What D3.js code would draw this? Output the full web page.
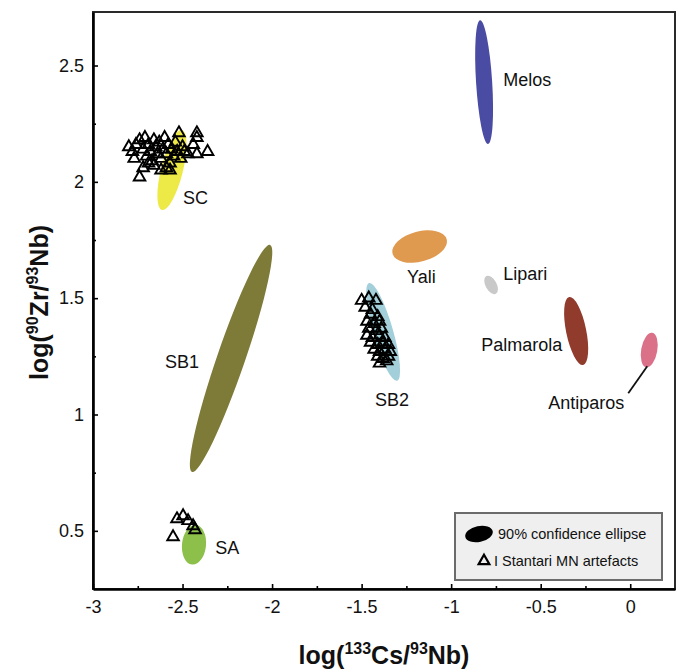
<!DOCTYPE html>
<html>
<head>
<meta charset="utf-8">
<script src="https://cdn.jsdelivr.net/npm/d3@7"></script>
<style>
  body { margin: 0; background: #fff; }
  svg text { font-family: "Liberation Sans", Arial, sans-serif; fill: #111; }
</style>
</head>
<body>
<svg id="chart" width="679" height="669"></svg>
<script>
// ---- data ----
const xTicks = [-3, -2.5, -2, -1.5, -1, -0.5, 0];
const xMinorTicks = [-2.75, -2.25, -1.75, -1.25, -0.75, -0.25];
const yTicks = [0.5, 1, 1.5, 2, 2.5];
const yMinorTicks = [0.75, 1.25, 1.75, 2.25];

const sources = ['Melos', 'SC', 'SB1', 'SB2', 'Yali', 'Lipari', 'Palmarola', 'Antiparos', 'SA'];
// ellipse centre, one end of the long axis, and half of the short axis (x units)
const ellipseCentre = [[-0.816, 2.429], [-2.559, 2.051], [-2.229, 1.241], [-1.380, 1.355], [-1.176, 1.722],
  [-0.777, 1.557], [-0.302, 1.359], [0.106, 1.277], [-2.436, 0.440]];
const ellipseTip = [[-0.838, 2.695], [-2.503, 2.223], [-2.011, 1.729], [-1.458, 1.565], [-1.025, 1.753],
  [-0.804, 1.595], [-0.341, 1.505], [0.123, 1.351], [-2.425, 0.525]];
const ellipseHalfWidth = [0.045, 0.061, 0.078, 0.056, 0.084, 0.031, 0.056, 0.045, 0.067];
const labelAt = [[-0.709, 2.412], [-2.497, 1.905], [-2.598, 1.200], [-1.425, 1.037], [-1.246, 1.565],
  [-0.709, 1.580], [-0.380, 1.273], [-0.458, 1.024], [-2.318, 0.401]];
const antiparosLeader = [[0.095, 1.207], [-0.011, 1.091]];

const artefactsSC = [[-2.80, 2.15], [-2.78, 2.13], [-2.76, 2.16], [-2.74, 2.18], [-2.72, 2.14], [-2.71, 2.19],
  [-2.70, 2.11], [-2.69, 2.16], [-2.68, 2.13], [-2.67, 2.09], [-2.66, 2.18], [-2.65, 2.15], [-2.64, 2.12],
  [-2.63, 2.17], [-2.62, 2.10], [-2.61, 2.14], [-2.60, 2.19], [-2.59, 2.12], [-2.58, 2.16], [-2.57, 2.08],
  [-2.56, 2.14], [-2.55, 2.11], [-2.54, 2.17], [-2.53, 2.13], [-2.52, 2.21], [-2.51, 2.10], [-2.50, 2.15],
  [-2.49, 2.13], [-2.47, 2.12], [-2.44, 2.16], [-2.42, 2.21], [-2.42, 2.19], [-2.42, 2.12], [-2.36, 2.13],
  [-2.74, 2.02], [-2.72, 2.06], [-2.66, 2.07], [-2.62, 2.05], [-2.59, 2.06], [-2.57, 2.05], [-2.69, 2.08],
  [-2.77, 2.10]];
const artefactsSB2 = [[-1.50, 1.49], [-1.46, 1.50], [-1.42, 1.49], [-1.48, 1.46], [-1.44, 1.45],
  [-1.45, 1.43], [-1.41, 1.42], [-1.47, 1.40], [-1.43, 1.39], [-1.40, 1.40], [-1.46, 1.37], [-1.42, 1.36],
  [-1.39, 1.37], [-1.47, 1.34], [-1.44, 1.33], [-1.40, 1.34], [-1.37, 1.33], [-1.45, 1.31], [-1.41, 1.30],
  [-1.38, 1.31], [-1.35, 1.30], [-1.43, 1.28], [-1.40, 1.27], [-1.37, 1.28], [-1.34, 1.27], [-1.41, 1.25],
  [-1.38, 1.24], [-1.35, 1.25], [-1.40, 1.22], [-1.36, 1.23]];
const artefactsSA = [[-2.531, 0.551], [-2.497, 0.564], [-2.469, 0.543], [-2.441, 0.521], [-2.430, 0.504],
  [-2.553, 0.474]];

// ---- styles ----
const palette = {
  Melos: '#4a4ca3', SC: '#ede947', SB1: '#7e7a37', SB2: '#a2cfd9', Yali: '#e09a50',
  Lipari: '#c9c9c9', Palmarola: '#903b2c', Antiparos: '#da7189', SA: '#8dbf4b'
};

const svg = d3.select('#chart');
const margin = { top: 12, right: 4, bottom: 80, left: 93 };
const W = 679, H = 669;

const x = d3.scaleLinear().domain([-3, 0.25]).range([margin.left, W - margin.right]);
const y = d3.scaleLinear().domain([0.25, 2.73]).range([H - margin.bottom, margin.top]);

// frame
svg.append('rect')
  .attr('x', x(-3)).attr('y', y(2.73))
  .attr('width', x(0.25) - x(-3)).attr('height', y(0.25) - y(2.73))
  .attr('fill', 'none').attr('stroke', '#2a2a2a').attr('stroke-width', 2);

// ellipses
const ellipses = svg.append('g');
sources.forEach((name, i) => {
  const cx = x(ellipseCentre[i][0]), cy = y(ellipseCentre[i][1]);
  const tx = x(ellipseTip[i][0]), ty = y(ellipseTip[i][1]);
  const angle = Math.atan2(ty - cy, tx - cx) * 180 / Math.PI;
  ellipses.append('ellipse')
    .attr('cx', cx).attr('cy', cy)
    .attr('rx', Math.hypot(tx - cx, ty - cy))
    .attr('ry', x(ellipseHalfWidth[i]) - x(0))
    .attr('transform', `rotate(${angle},${cx},${cy})`)
    .attr('fill', palette[name]);
});

svg.append('path')
  .attr('d', d3.line().x((d) => x(d[0])).y((d) => y(d[1]))(antiparosLeader))
  .attr('stroke', '#111').attr('stroke-width', 1.8).attr('fill', 'none');

// artefacts
const tri = d3.symbol(d3.symbolTriangle, 58);
svg.append('g')
  .selectAll('path')
  .data([...artefactsSC, ...artefactsSB2, ...artefactsSA])
  .join('path')
  .attr('d', tri)
  .attr('transform', (d) => `translate(${x(d[0])},${y(d[1])})`)
  .attr('fill', 'none')
  .attr('stroke', '#000')
  .attr('stroke-width', 1.9);

// labels
svg.append('g')
  .selectAll('text')
  .data(sources)
  .join('text')
  .attr('x', (d, i) => x(labelAt[i][0]))
  .attr('y', (d, i) => y(labelAt[i][1]))
  .attr('text-anchor', (d) => (d === 'Palmarola' ? 'end' : 'start'))
  .attr('font-size', 18)
  .text((d) => d);

// axes
svg.append('g').attr('transform', `translate(0,${y(0.25)})`)
  .call(d3.axisBottom(x).tickValues(xTicks).tickSizeInner(-5).tickSizeOuter(0)
    .tickPadding(11).tickFormat((d) => String(d)));
svg.append('g').attr('transform', `translate(0,${y(0.25)})`)
  .call(d3.axisBottom(x).tickValues(xMinorTicks).tickSizeInner(-3).tickSizeOuter(0).tickFormat(''))
  .call((g) => g.select('.domain').remove());

svg.append('g').attr('transform', `translate(${x(-3)},0)`)
  .call(d3.axisLeft(y).tickValues(yTicks).tickSizeInner(-5).tickSizeOuter(0)
    .tickPadding(9).tickFormat((d) => String(d)));
svg.append('g').attr('transform', `translate(${x(-3)},0)`)
  .call(d3.axisLeft(y).tickValues(yMinorTicks).tickSizeInner(-3).tickSizeOuter(0).tickFormat(''))
  .call((g) => g.select('.domain').remove());

svg.selectAll('.domain').attr('stroke', '#000').attr('stroke-width', 2.6);
svg.selectAll('.tick line').attr('stroke', '#000').attr('stroke-width', 1.6);
svg.selectAll('.tick text')
  .attr('font-family', '"Liberation Sans", Arial, sans-serif')
  .attr('font-size', 18).attr('fill', '#111');

// axis titles
const xTitle = svg.append('text')
  .attr('x', (x(-3) + x(0.25)) / 2).attr('y', 664)
  .attr('text-anchor', 'middle').attr('font-size', 25).attr('font-weight', 'bold');
xTitle.append('tspan').text('log(');
xTitle.append('tspan').attr('dy', -10).attr('font-size', 16).text('133');
xTitle.append('tspan').attr('dy', 10).text('Cs/');
xTitle.append('tspan').attr('dy', -10).attr('font-size', 16).text('93');
xTitle.append('tspan').attr('dy', 10).text('Nb)');

const yTitle = svg.append('text')
  .attr('transform', `translate(48,${(y(0.25) + y(2.73)) / 2 + 2}) rotate(-90)`)
  .attr('text-anchor', 'middle').attr('font-size', 25).attr('font-weight', 'bold');
yTitle.append('tspan').text('log(');
yTitle.append('tspan').attr('dy', -10).attr('font-size', 16).text('90');
yTitle.append('tspan').attr('dy', 10).text('Zr/');
yTitle.append('tspan').attr('dy', -10).attr('font-size', 16).text('93');
yTitle.append('tspan').attr('dy', 10).text('Nb)');

// legend
const legend = svg.append('g');
legend.append('rect')
  .attr('x', 455).attr('y', 513).attr('width', 207).attr('height', 67)
  .attr('fill', '#efefef').attr('stroke', '#6b6b6b').attr('stroke-width', 2);
legend.append('ellipse')
  .attr('cx', 479).attr('cy', 534).attr('rx', 14).attr('ry', 8)
  .attr('transform', 'rotate(-12,479,534)').attr('fill', '#000');
legend.append('text').attr('x', 498).attr('y', 539).attr('font-size', 14.5).text('90% confidence ellipse');
legend.append('path')
  .attr('d', d3.symbol(d3.symbolTriangle, 50)())
  .attr('transform', 'translate(484,561)')
  .attr('fill', 'none').attr('stroke', '#000').attr('stroke-width', 2.2);
legend.append('text').attr('x', 494).attr('y', 566).attr('font-size', 14.5).text('I Stantari MN artefacts');
</script>
</body>
</html>
